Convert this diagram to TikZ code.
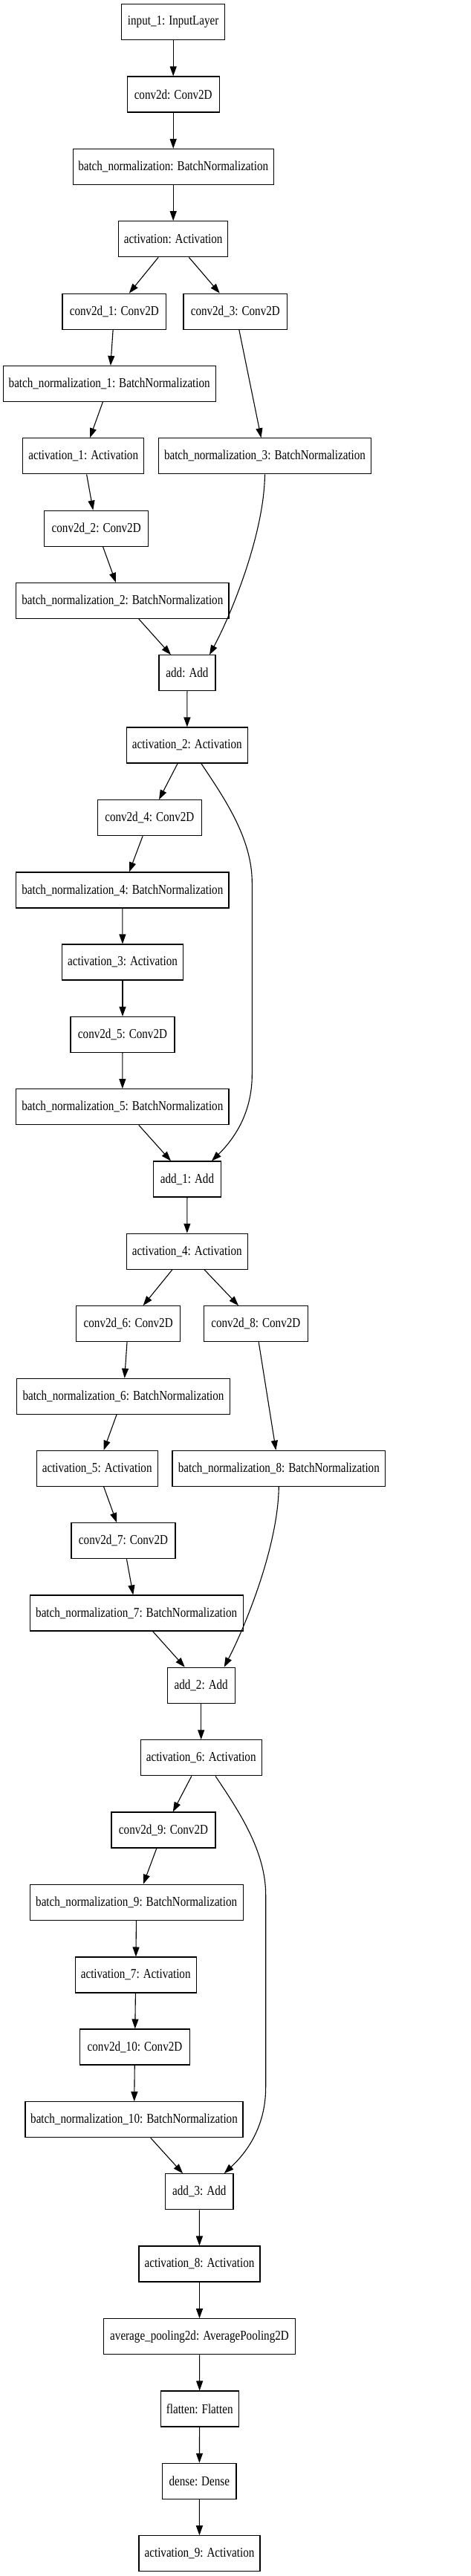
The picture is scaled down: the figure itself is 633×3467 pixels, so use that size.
\documentclass[tikz,border=0pt]{standalone}
\usepackage{fontspec}
\setmainfont{Liberation Serif}[FakeStretch=0.83]
\usetikzlibrary{arrows.meta,calc}
\tikzset{
  layer/.style={draw=black, line width=1.1pt, rectangle, minimum height=48pt, inner xsep=4pt, inner ysep=0pt, font=\fontsize{18.2}{22}\selectfont, fill=white, minimum width=#1},
  layer/.default=140pt,
  edge/.style={line width=1.1pt, -{Triangle[length=13pt,width=9pt]}},
}
\begin{document}
\begin{tikzpicture}[x=1pt,y=-1pt]
\useasboundingbox[fill=white] (0,0) rectangle (633,3467);
\node[layer=139pt] (in) at (233.2,29.7) {input\_1: InputLayer};
\node[layer=124.3pt] (c0) at (233.2,127) {conv2d: Conv2D};
\node[layer=269.7pt] (bn0) at (233.2,224.5) {batch\_normalization: BatchNormalization};
\node[layer=147pt] (a0) at (233.2,321.7) {activation: Activation};
\node[layer=139.7pt] (c1) at (153.8,419.2) {conv2d\_1: Conv2D};
\node[layer=139.7pt] (c3) at (316.8,419.2) {conv2d\_3: Conv2D};
\node[layer=286.3pt] (bn1) at (147.2,516.5) {batch\_normalization\_1: BatchNormalization};
\node[layer=163pt] (a1) at (112.2,613.8) {activation\_1: Activation};
\node[layer=286.4pt] (bn3) at (356.5,613.8) {batch\_normalization\_3: BatchNormalization};
\node[layer=140pt] (c2) at (129.7,711.2) {conv2d\_2: Conv2D};
\node[layer=286.3pt] (bn2) at (164.8,808.5) {batch\_normalization\_2: BatchNormalization};
\node[layer=76pt] (add0) at (252,905.8) {add: Add};
\node[layer=163pt] (a2) at (251.8,1003) {activation\_2: Activation};
\node[layer=140pt] (c4) at (201.3,1100.7) {conv2d\_4: Conv2D};
\node[layer=286.3pt] (bn4) at (164.8,1198) {batch\_normalization\_4: BatchNormalization};
\node[layer=163.4pt] (a3) at (165,1295) {activation\_3: Activation};
\node[layer=140pt] (c5) at (165,1392.5) {conv2d\_5: Conv2D};
\node[layer=286.3pt] (bn5) at (164.8,1489.7) {batch\_normalization\_5: BatchNormalization};
\node[layer=91.4pt] (add1) at (252,1587) {add\_1: Add};
\node[layer=163pt] (a4) at (251.8,1684.3) {activation\_4: Activation};
\node[layer=140pt] (c6) at (172.7,1781.7) {conv2d\_6: Conv2D};
\node[layer=140pt] (c8) at (344.3,1781.7) {conv2d\_8: Conv2D};
\node[layer=286.6pt] (bn6) at (166,1879.3) {batch\_normalization\_6: BatchNormalization};
\node[layer=163.3pt] (a5) at (130.7,1976.3) {activation\_5: Activation};
\node[layer=286.7pt] (bn8) at (375.3,1976.3) {batch\_normalization\_8: BatchNormalization};
\node[layer=140pt] (c7) at (166,2073.7) {conv2d\_7: Conv2D};
\node[layer=286.7pt] (bn7) at (183.7,2171) {batch\_normalization\_7: BatchNormalization};
\node[layer=91.3pt] (add2) at (270.7,2268.3) {add\_2: Add};
\node[layer=163.3pt] (a6) at (270.7,2365.8) {activation\_6: Activation};
\node[layer=140pt] (c9) at (220,2463) {conv2d\_9: Conv2D};
\node[layer=286.7pt] (bn9) at (183.7,2560.3) {batch\_normalization\_9: BatchNormalization};
\node[layer=163.3pt] (a7) at (182.7,2658) {activation\_7: Activation};
\node[layer=147.6pt] (c10) at (181.5,2755) {conv2d\_10: Conv2D};
\node[layer=293pt] (bn10) at (180.5,2852.7) {batch\_normalization\_10: BatchNormalization};
\node[layer=91.3pt] (add3) at (268.3,2949.7) {add\_3: Add};
\node[layer=163pt] (a8) at (268.5,3047) {activation\_8: Activation};
\node[layer=257.6pt] (pool) at (268.5,3144.7) {average\_pooling2d: AveragePooling2D};
\node[layer=104.7pt] (flat) at (268.7,3242) {flatten: Flatten};
\node[layer=99.3pt] (dense) at (268.3,3339.3) {dense: Dense};
\node[layer=163pt] (a9) at (268.5,3436.7) {activation\_9: Activation};
% straight edges
\foreach \s/\t in {in/c0, c0/bn0, bn0/a0, a0/c1, a0/c3, c1/bn1, bn1/a1, a1/c2, c2/bn2, bn2/add0, c3/bn3,
  add0/a2, a2/c4, c4/bn4, bn4/a3, a3/c5, c5/bn5, bn5/add1, add1/a4, a4/c6, a4/c8, c6/bn6, bn6/a5, a5/c7, c7/bn7, bn7/add2, c8/bn8,
  add2/a6, a6/c9, c9/bn9, bn9/a7, a7/c10, c10/bn10, bn10/add3, add3/a8, a8/pool, pool/flat, flat/dense, dense/a9}
  \draw[edge] (\s) -- (\t);
% curved edges
\draw[edge] (bn3.south) .. controls ($(bn3.south)+(-1,82)$) and ($(add0.north)+(58,-52)$) .. ($(add0.north)+(30,0)$);
\draw[edge] (bn8.south) .. controls ($(bn8.south)+(-1,82)$) and ($(add2.north)+(58,-52)$) .. ($(add2.north)+(31,0)$);
\draw[edge] ($(a2.south)+(19,0)$) .. controls ($(a2.south)+(49,45)$) and ($(a2.south)+(87.5,100)$) .. ($(a2.south)+(87.5,160)$)
  -- ($(add1.north)+(87.3,-116)$) .. controls ($(add1.north)+(87.3,-66)$) and ($(add1.north)+(64.6,-31)$) .. ($(add1.north)+(33,0)$);
\draw[edge] ($(a6.south)+(19.3,0)$) .. controls ($(a6.south)+(49.3,45)$) and ($(a6.south)+(87,100)$) .. ($(a6.south)+(87,160)$)
  -- ($(add3.north)+(89.4,-116)$) .. controls ($(add3.north)+(89.4,-66)$) and ($(add3.north)+(66.7,-31)$) .. ($(add3.north)+(33.4,0)$);
\end{tikzpicture}
\end{document}
